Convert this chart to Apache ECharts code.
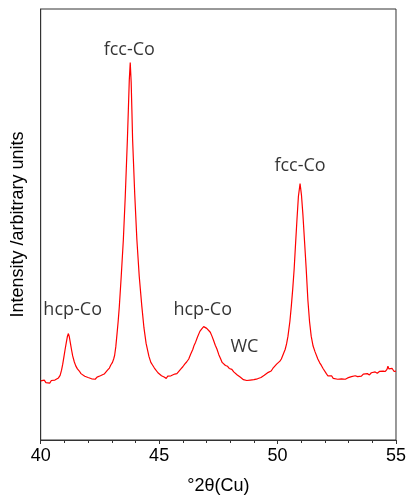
<!DOCTYPE html>
<html>
<head>
<meta charset="utf-8">
<script src="https://cdn.jsdelivr.net/npm/echarts@6/dist/echarts.min.js"></script>
<style>html,body{margin:0;padding:0;background:#fff}#c{width:409px;height:500px}</style>
</head>
<body>
<div id="c"></div>
<script>
const twoTheta = [40.00,40.08,40.15,40.22,40.30,40.38,40.45,40.52,40.60,40.68,40.75,40.82,40.88,40.93,40.98,41.03,41.08,41.13,41.17,41.21,41.25,41.30,41.35,41.42,41.48,41.55,41.63,41.70,41.78,41.86,41.93,42.00,42.08,42.15,42.22,42.30,42.38,42.45,42.52,42.60,42.68,42.75,42.82,42.90,42.96,43.03,43.08,43.12,43.17,43.22,43.27,43.32,43.40,43.49,43.57,43.66,43.70,43.74,43.78,43.82,43.85,43.88,43.97,44.06,44.16,44.27,44.36,44.45,44.57,44.65,44.72,44.80,44.87,44.95,45.03,45.10,45.21,45.30,45.36,45.42,45.50,45.58,45.66,45.75,45.84,45.92,46.00,46.08,46.16,46.25,46.33,46.42,46.48,46.54,46.62,46.72,46.80,46.88,46.95,47.01,47.08,47.16,47.23,47.30,47.37,47.44,47.52,47.60,47.66,47.72,47.80,47.89,47.96,48.01,48.07,48.15,48.22,48.30,48.35,48.42,48.50,48.56,48.63,48.70,48.78,48.85,48.92,49.00,49.08,49.15,49.22,49.30,49.38,49.44,49.52,49.61,49.68,49.73,49.80,49.88,49.96,50.03,50.10,50.16,50.24,50.32,50.38,50.44,50.52,50.58,50.64,50.70,50.76,50.82,50.88,50.95,51.01,51.07,51.14,51.21,51.28,51.35,51.42,51.50,51.58,51.70,51.78,51.85,51.92,51.99,52.06,52.12,52.20,52.28,52.35,52.43,52.54,52.62,52.70,52.78,52.86,52.96,53.04,53.12,53.20,53.28,53.38,53.46,53.54,53.62,53.70,53.79,53.88,53.96,54.04,54.12,54.21,54.30,54.38,54.46,54.55,54.62,54.66,54.70,54.76,54.84,54.92,55.00];
const intensity = [13.7,13.4,13.9,13.3,13.6,13.2,13.8,13.5,13.9,14.2,14.4,15.0,16.2,17.6,19.3,21.0,22.6,24.1,24.7,23.9,22.6,21.0,19.5,18.1,17.2,16.5,16.0,15.4,15.3,14.8,15.0,14.5,14.7,14.2,14.5,14.1,14.6,14.4,14.9,14.8,15.3,15.6,16.2,16.7,17.4,18.0,18.8,19.6,21.6,24.5,27.5,31.0,38.0,46.5,56.5,69.7,76.5,83.5,87.6,83.0,76.5,69.7,57.0,46.5,38.0,31.0,26.0,22.4,19.4,18.0,17.4,16.7,16.4,15.6,15.5,14.9,14.6,14.3,14.8,14.5,14.9,14.7,15.3,15.4,16.0,16.5,17.0,17.6,18.1,18.8,19.9,21.0,22.0,22.7,23.9,25.2,25.8,26.3,26.1,25.9,25.6,25.0,24.1,23.1,22.0,21.1,19.8,18.8,18.0,17.6,17.3,17.1,16.6,16.7,16.4,15.8,15.6,15.1,15.0,14.6,14.4,14.0,14.1,13.8,14.2,13.9,14.3,14.0,14.4,14.2,14.6,14.5,14.9,15.0,15.3,15.7,15.8,16.0,16.6,17.0,17.6,17.8,18.3,18.8,19.9,21.0,22.3,24.1,27.5,31.0,35.0,39.6,45.5,51.2,56.5,59.5,56.8,52.3,46.0,39.6,32.5,27.5,24.1,21.8,20.5,18.8,17.9,17.3,16.6,16.4,15.4,14.9,14.6,14.9,14.3,14.6,14.1,14.5,14.2,14.6,14.1,14.4,14.2,14.7,14.4,14.9,14.7,15.1,14.8,15.3,15.0,15.4,15.1,15.6,15.3,15.8,15.5,15.9,15.6,16.0,15.9,16.4,17.1,16.5,16.2,16.6,15.9,16.0];

const peakLabels = ['hcp-Co','fcc-Co','hcp-Co','WC','fcc-Co'];
const labelX = [41.35,43.74,46.84,48.60,50.95];
const labelY = [30.1,90.5,30.1,21.5,63.7];

const xTicks = [40,45,50,55];

const chart = echarts.init(document.getElementById('c'));
chart.setOption({
  animation: false,
  backgroundColor: '#fff',
  grid: {left: 40.7, right: 10.3, top: 9, bottom: 59, show: true, borderColor: '#333', borderWidth: 1},
  xAxis: {
    type: 'value', min: xTicks[0], max: xTicks[xTicks.length-1], interval: 5,
    name: '°2θ(Cu)', nameLocation: 'middle', nameGap: 37,
    nameTextStyle: {fontFamily: 'Liberation Sans', fontSize: 18, color: '#000'},
    axisLine: {show: true, lineStyle: {color: '#333', width: 1}},
    axisTick: {show: true, inside: false, length: 4, lineStyle: {color: '#333'}},
    minorTick: {show: true, splitNumber: 5, length: 3, lineStyle: {color: '#333'}},
    axisLabel: {fontFamily: 'Liberation Sans', fontSize: 18, color: '#000', margin: 7},
    splitLine: {show: false}
  },
  yAxis: {
    type: 'value', min: 0, max: 100,
    name: 'Intensity /arbitrary units', nameLocation: 'middle', nameGap: 14,
    nameTextStyle: {fontFamily: 'Liberation Sans', fontSize: 18, color: '#000'},
    axisLine: {show: true, lineStyle: {color: '#333', width: 1}},
    axisTick: {show: false}, axisLabel: {show: false}, splitLine: {show: false}
  },
  series: [
    {
      type: 'line', showSymbol: false, symbol: 'none',
      data: twoTheta.map((t, i) => [t, intensity[i]]),
      lineStyle: {color: '#ff0000', width: 1.2}, itemStyle: {color: '#ff0000'}
    },
    {
      type: 'scatter', symbolSize: 1, itemStyle: {color: 'rgba(0,0,0,0)'},
      data: labelX.map((x, i) => ({value: [x, labelY[i]], name: peakLabels[i]})),
      label: {show: true, position: 'inside', formatter: p => p.name,
        fontFamily: 'Open Sans', fontSize: 18, color: '#000'},
      silent: true
    }
  ]
});
</script>
</body>
</html>
